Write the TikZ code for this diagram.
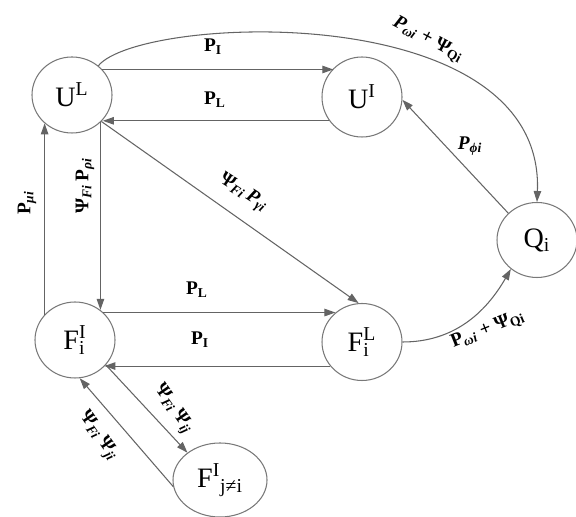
\documentclass[tikz,border=0pt]{standalone}
\usepackage{fontspec}
\setmainfont{Liberation Serif}
\usepackage{xcolor}
\usepackage{tikz}
\usetikzlibrary{arrows.meta,shapes.geometric}
\definecolor{lngray}{RGB}{100,100,100}
\definecolor{ndgray}{RGB}{120,120,120}
\newcommand{\bP}{\textbf{P}}
\newcommand{\biP}{\textbf{\textit{P}}}
\newcommand{\bPsi}{\textbf{Ψ}}
\newcommand{\sub}[1]{\textsubscript{#1}}

\begin{document}
\begin{tikzpicture}[
  >={Triangle[length=2.2mm,width=1.5mm]},
  line width=0.6pt,
  state/.style = {ellipse, draw=ndgray, inner sep=0pt,
                  minimum width=1.60cm, minimum height=1.52cm,
                  font=\fontsize{16}{18}\selectfont},
  lnk/.style   = {->, draw=lngray},
  lab/.style   = {inner sep=1pt, font=\fontsize{11}{13}\selectfont\bfseries}
]
\useasboundingbox (0,0) rectangle (11.52,10.34);

%% ===== states =====
\node[state] (UL) at (1.44, 8.44) {U\textsuperscript{L}};
\node[state, minimum height=1.60cm] (UI) at (7.24, 8.40) {U\textsuperscript{I}};
\node[state, minimum height=1.50cm] (Q) at (10.74, 5.54) {Q\sub{i}};
\node[state] (Fi) at (1.50, 3.54) {F\rlap{\sub{i}}\textsuperscript{I}};
\node[state, minimum height=1.54cm] (FL) at (7.24, 3.50) {F\rlap{\sub{i}}\textsuperscript{L}};
\node[state, minimum width=1.88cm, minimum height=1.48cm] (Fj) at (4.40, 0.74)
  {F\textsuperscript{I}\sub{j≠i}};

%% ===== connectors =====
\draw[lnk] (UL.40) -- (UL.40 -| UI.135);
\draw[lnk] (UI.216) -- (UI.216 -| UL.-39);
\draw[lnk] (UL.48) .. controls (2.80, 10.04) and (10.90, 10.40) .. (Q.north);
\draw[lnk] (Q.137) -- (UI.-4);
\draw[lnk] (UL.-44) -- (UL.-44 |- Fi.50);
\draw[lnk] (Fi.140) -- (Fi.140 |- UL.226);
\draw[lnk] (UL.-42) -- (FL.95);
\draw[lnk] (Fi.44) -- (Fi.44 -| FL.132);
\draw[lnk] (FL.217) -- (FL.217 -| Fi.-42);
\draw[lnk] (FL.east) to[out=0, in=240] (Q.228);
\draw[lnk] (Fi.-39) -- (Fj.140);
\draw[lnk] (Fj.188) -- (Fi.-83);

%% ===== labels =====
\node[lab] (lPI1) at (4.26, 9.40) {\bP\sub{I}};
\node[lab] (lPL1) at (4.30, 8.34) {\bP\sub{L}};
\node[lab, rotate=-28] (lQtop) at (8.56, 9.54)
  {\biP\sub{\textit{ωi}} + \bPsi\sub{Qi}};
\node[lab] (lphi) at (9.40, 7.42) {\biP\sub{\textit{ϕi}}};
\node[lab, rotate=-33] (lgam) at (4.86, 6.48)
  {\bPsi\sub{\textit{Fi}}\,\biP\sub{\textit{γi}}};
\node[lab, rotate=90] (lrho) at (1.70, 6.62)
  {\bPsi\sub{\textit{Fi}}\,\bP\sub{\textit{ρi}}};
\node[lab, rotate=90] (lmu) at (0.54, 6.28) {\bP\sub{\textit{μi}}};
\node[lab] (lPL2) at (3.94, 4.54) {\bP\sub{L}};
\node[lab] (lPI2) at (4.00, 3.54) {\bP\sub{I}};
\node[lab, rotate=22] (lQbot) at (9.76, 3.74)
  {\bP\sub{\textit{ωi}} + \bPsi\sub{Qi}};
\node[lab, rotate=-55] (lij) at (3.46, 2.16)
  {\bPsi\sub{\textit{Fi}}\,\bPsi\sub{\textit{ij}}};
\node[lab, rotate=-55] (lji) at (1.96, 1.62)
  {\bPsi\sub{\textit{Fi}}\,\bPsi\sub{\textit{ji}}};

\end{tikzpicture}
\end{document}
